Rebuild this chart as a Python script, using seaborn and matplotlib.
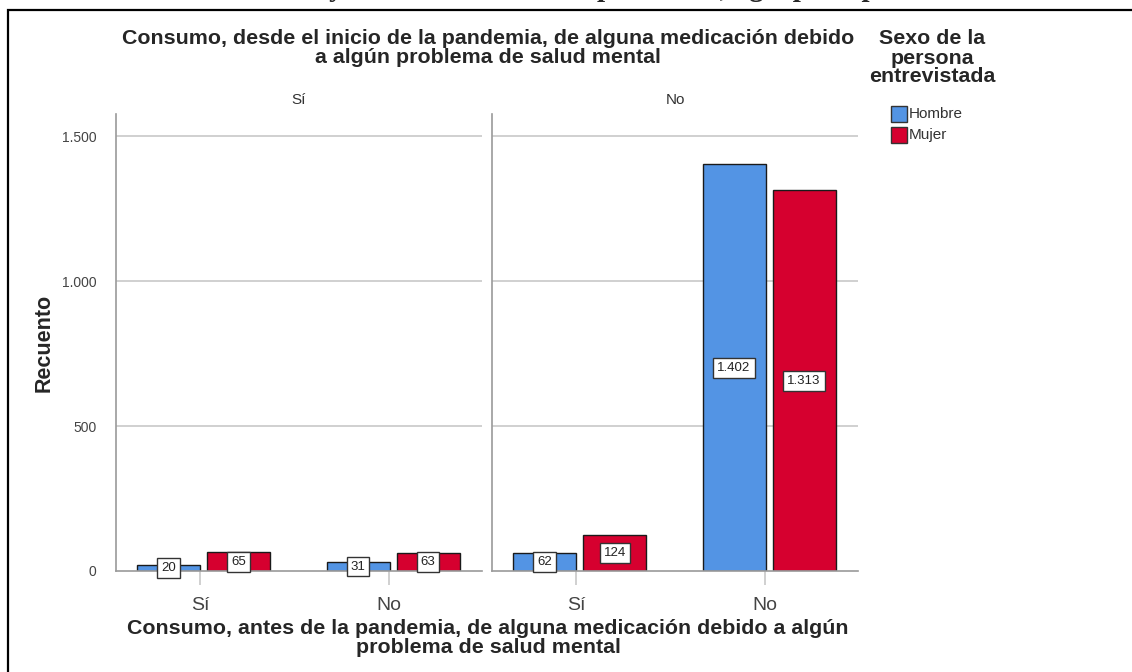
import matplotlib
matplotlib.use("Agg")
import matplotlib.pyplot as plt
from matplotlib.patches import Rectangle
import seaborn as sns
import pandas as pd

# data
facets = ["Sí", "No"]            # consumo desde el inicio de la pandemia
antes = ["Sí", "No"]             # consumo antes de la pandemia
sexos = ["Hombre", "Mujer"]
hombre_si = [20, 31]             # facet "Sí": antes Sí / No
mujer_si = [65, 63]
hombre_no = [62, 1402]           # facet "No": antes Sí / No
mujer_no = [124, 1313]

yticks = [0, 500, 1000, 1500]
ytick_labels = ["0", "500", "1.000", "1.500"]

colors = {"Hombre": "#5394E4", "Mujer": "#D6002F"}

rows = []
for facet, hom, muj in [("Sí", hombre_si, mujer_si), ("No", hombre_no, mujer_no)]:
    for i, a in enumerate(antes):
        rows.append({"desde": facet, "antes": a, "sexo": "Hombre", "n": hom[i]})
        rows.append({"desde": facet, "antes": a, "sexo": "Mujer", "n": muj[i]})
df = pd.DataFrame(rows)


def fmt(v):
    return f"{v:,}".replace(",", ".")


sns.set_theme(style="white")
plt.rcParams["font.family"] = ["Liberation Sans", "DejaVu Sans"]

W, H = 1132, 672
fig = plt.figure(figsize=(W / 100, H / 100), dpi=100)

# outer frame (top and left visible)
fig.patches.append(Rectangle((8 / W, -0.1), 1.2, 1 - 10 / H + 0.1, transform=fig.transFigure,
                             fill=False, edgecolor="black", linewidth=1.6))
# cut-off caption above the frame
fig.text(0.0, 1 + 4 / H, "Gráfico 4. Consumo antes y desde el inicio de la pandemia, agrupado por sexo",
         fontsize=21, fontweight="bold", family=["Liberation Serif"], va="baseline", ha="left")

bottom = 1 - 571 / H
height = (571 - 114) / H
panel_w = 366 / W
lefts = [116 / W, 492 / W]

grid_c = "#C8C8C8"
axis_c = "#9A9A9A"
ymax = 1576
bold_size = 15.4
lsp = 1.0

for k, facet in enumerate(facets):
    ax = fig.add_axes([lefts[k], bottom, panel_w, height])
    sub = df[df["desde"] == facet]
    sns.barplot(data=sub, x="antes", y="n", hue="sexo", order=antes, hue_order=sexos,
                palette=colors, width=0.74, gap=0.1, edgecolor="#1a1a1a", linewidth=1.0,
                saturation=1, legend=False, ax=ax)
    ax.set_xlim(-0.464, 1.47)
    ax.set_ylim(0, ymax)
    ax.set_yticks(yticks)
    for y in yticks[1:]:
        ax.axhline(y, color=grid_c, linewidth=1.2, zorder=0)
    for side in ["top", "right"]:
        ax.spines[side].set_visible(False)
    ax.spines["bottom"].set_color(axis_c)
    ax.spines["left"].set_color(axis_c)
    ax.spines["bottom"].set_linewidth(1.2)
    ax.spines["left"].set_linewidth(1.2)
    ax.tick_params(axis="x", bottom=True, length=10, width=1.2, color="#C8C8C8",
                   labelsize=14, labelcolor="#444444", pad=9)
    ax.set_xticks([-0.02, 0.98])
    ax.set_xticklabels(antes)
    if k == 0:
        ax.set_yticklabels(ytick_labels)
        ax.tick_params(axis="y", left=False, labelsize=10, labelcolor="#444444", pad=8)
        ax.set_ylabel("Recuento", fontsize=15.5, fontweight="bold", labelpad=5)
    else:
        ax.set_yticklabels([])
        ax.tick_params(axis="y", left=False)
        ax.set_ylabel("")
    ax.set_xlabel("")
    ax.set_title(facet, fontsize=11, color="#333333", pad=7)

    # value boxes centred on each bar
    for cont in ax.containers:
        for bar in cont:
            h = bar.get_height()
            ax.text(bar.get_x() + bar.get_width() / 2, h / 2, fmt(int(round(h))),
                    ha="center", va="center", fontsize=9.5, color="#222222",
                    bbox=dict(boxstyle="square,pad=0.3", facecolor="white",
                              edgecolor="#333333", linewidth=1.0), zorder=5)

fig.text(488 / W, 1 - 48 / H,
         "Consumo, desde el inicio de la pandemia, de alguna medicación debido\na algún problema de salud mental",
         ha="center", va="center", fontsize=bold_size, fontweight="bold", linespacing=lsp)
fig.text(488 / W, 1 - 638 / H,
         "Consumo, antes de la pandemia, de alguna medicación debido a algún\nproblema de salud mental",
         ha="center", va="center", fontsize=bold_size, fontweight="bold", linespacing=lsp)

# legend
fig.text(932 / W, 1 - 58 / H, "Sexo de la\npersona\nentrevistada", ha="center", va="center",
         fontsize=bold_size, fontweight="bold", linespacing=lsp)
for i, s in enumerate(sexos):
    yc = 1 - (114 + 21 * i) / H
    fig.patches.append(Rectangle((891 / W, yc - 8 / H), 16 / W, 16 / H, transform=fig.transFigure,
                                 facecolor=colors[s], edgecolor="#333333", linewidth=1.0))
    fig.text(909 / W, yc, s, ha="left", va="center", fontsize=11, color="#333333")

fig.savefig("out.png", dpi=100)
